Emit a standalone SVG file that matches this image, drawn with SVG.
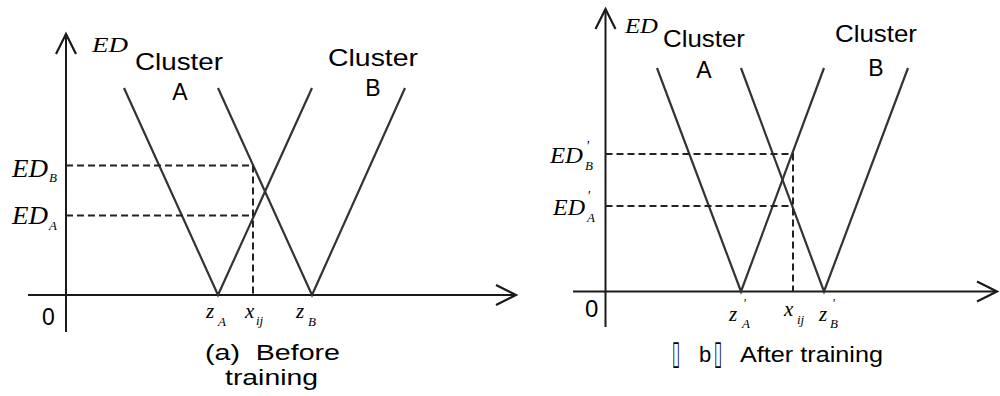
<svg xmlns="http://www.w3.org/2000/svg" width="1000" height="396" viewBox="0 0 1000 396">
<style>
.axis{stroke:#1a1a1a;stroke-width:2;fill:none}
.vl{stroke:#333;stroke-width:2.2;fill:none}
.dash{stroke:#222;stroke-width:2;stroke-dasharray:7 4;fill:none}
.sans{font-family:"Liberation Sans",Arial,"DejaVu Sans",sans-serif;fill:#000}
.math{font-family:"Liberation Serif","Times New Roman",serif;font-style:italic;fill:#000}
.tofu{font-family:"DejaVu Sans",sans-serif;fill:#000}
</style>
<defs>
<marker id="arr" markerUnits="userSpaceOnUse" markerWidth="30" markerHeight="30" viewBox="-25 -15 30 30" refX="0" refY="0" orient="auto">
<path d="M-20,-10 L0,0 L-20,10" stroke="#1a1a1a" stroke-width="2.2" fill="none"/>
</marker>
</defs>
<rect width="1000" height="396" fill="#fff"/>

<g id="panel-a">
  <g id="axes-a">
    <line class="axis" x1="66" y1="332" x2="66" y2="34" marker-end="url(#arr)"/>
    <line class="axis" x1="28" y1="295" x2="516" y2="295" marker-end="url(#arr)"/>
  </g>
  <g id="connectors-a">
    <polyline class="vl" points="124,88 218,295 312,88"/>
    <polyline class="vl" points="218,88 312,295 405,88"/>
    <polyline class="dash" points="66,165.5 253,165.5 253,295"/>
    <line class="dash" x1="66" y1="215.5" x2="253" y2="215.5"/>
  </g>
  <g id="labels-a">
    <text class="math" x="92" y="52" font-size="22" textLength="36" lengthAdjust="spacingAndGlyphs">ED</text>
    <text class="sans" x="135" y="70" font-size="24" textLength="88" lengthAdjust="spacingAndGlyphs">Cluster</text>
    <text class="sans" x="180" y="100" font-size="23" text-anchor="middle">A</text>
    <text class="sans" x="328" y="66" font-size="24" textLength="90" lengthAdjust="spacingAndGlyphs">Cluster</text>
    <text class="sans" x="373" y="96" font-size="23" text-anchor="middle">B</text>
    <text class="math" x="12" y="177" font-size="25" textLength="36" lengthAdjust="spacingAndGlyphs">ED</text>
    <text class="math" x="49" y="182" font-size="13">B</text>
    <text class="math" x="12" y="224" font-size="25" textLength="36" lengthAdjust="spacingAndGlyphs">ED</text>
    <text class="math" x="49" y="230" font-size="13">A</text>
    <text class="sans" x="42" y="325" font-size="23">0</text>
    <text class="math" x="206" y="318" font-size="21">z</text>
    <text class="math" x="218" y="326" font-size="13">A</text>
    <text class="math" x="245" y="318" font-size="21">x</text>
    <text class="math" x="256" y="325" font-size="13">ij</text>
    <text class="math" x="296" y="318" font-size="21">z</text>
    <text class="math" x="308" y="326" font-size="13">B</text>
    <text class="sans" x="205" y="360" font-size="22" textLength="135" lengthAdjust="spacingAndGlyphs" xml:space="preserve">(a)  Before</text>
    <text class="sans" x="225" y="385" font-size="22" textLength="93" lengthAdjust="spacingAndGlyphs">training</text>
  </g>
</g>

<g id="panel-b">
  <g id="axes-b">
    <line class="axis" x1="605.5" y1="327" x2="605.5" y2="9" marker-end="url(#arr)"/>
    <line class="axis" x1="573" y1="291.5" x2="997" y2="291.5" marker-end="url(#arr)"/>
  </g>
  <g id="connectors-b">
    <polyline class="vl" points="657,68 741,291.5 824,68"/>
    <polyline class="vl" points="741,68 824,291.5 908,68"/>
    <polyline class="dash" points="605.5,154 793,154 793,291.5"/>
    <line class="dash" x1="605.5" y1="206" x2="793" y2="206"/>
  </g>
  <g id="labels-b">
    <text class="math" x="625" y="33" font-size="20" textLength="33" lengthAdjust="spacingAndGlyphs">ED</text>
    <text class="sans" x="663" y="47" font-size="24" textLength="82" lengthAdjust="spacingAndGlyphs">Cluster</text>
    <text class="sans" x="704" y="78" font-size="23" text-anchor="middle">A</text>
    <text class="sans" x="835" y="42" font-size="24" textLength="82" lengthAdjust="spacingAndGlyphs">Cluster</text>
    <text class="sans" x="876" y="76" font-size="23" text-anchor="middle">B</text>
    <text class="math" x="550" y="163" font-size="23" textLength="33" lengthAdjust="spacingAndGlyphs">ED</text>
    <text class="math" x="586" y="151" font-size="14">'</text>
    <text class="math" x="585" y="170" font-size="13">B</text>
    <text class="math" x="553" y="215" font-size="23" textLength="32" lengthAdjust="spacingAndGlyphs">ED</text>
    <text class="math" x="587" y="201" font-size="14">'</text>
    <text class="math" x="587" y="222" font-size="13">A</text>
    <text class="sans" x="585" y="317" font-size="24">0</text>
    <text class="math" x="729" y="321" font-size="21">z</text>
    <text class="math" x="743" y="307" font-size="13">'</text>
    <text class="math" x="742" y="328" font-size="13">A</text>
    <text class="math" x="784" y="316" font-size="21">x</text>
    <text class="math" x="797" y="324" font-size="13">ij</text>
    <text class="math" x="819" y="321" font-size="21">z</text>
    <text class="math" x="832" y="307" font-size="13">'</text>
    <text class="math" x="830" y="328" font-size="13">B</text>
    <text class="tofu" x="672" y="364" font-size="34" textLength="8" lengthAdjust="spacingAndGlyphs">▯</text>
    <text class="sans" x="699" y="362" font-size="22">b</text>
    <text class="tofu" x="714" y="364" font-size="34" textLength="8" lengthAdjust="spacingAndGlyphs">▯</text>
    <text class="sans" x="740" y="362" font-size="22" textLength="143" lengthAdjust="spacingAndGlyphs">After training</text>
  </g>
</g>
</svg>
